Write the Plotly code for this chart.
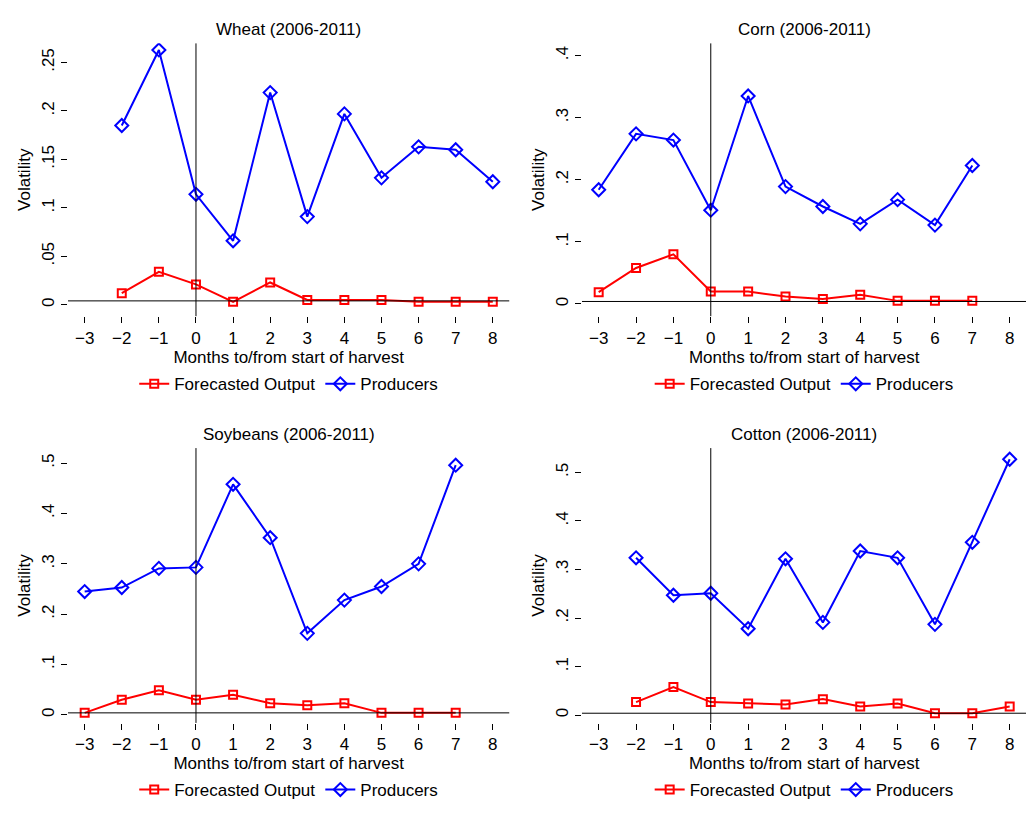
import plotly.graph_objects as go

# months relative to harvest start
wheat_x = [-2, -1, 0, 1, 2, 3, 4, 5, 6, 7, 8]
wheat_prod = [0.185, 0.263, 0.114, 0.066, 0.219, 0.091, 0.197, 0.131, 0.163, 0.160, 0.127]
wheat_fcst = [0.012, 0.034, 0.021, 0.003, 0.023, 0.005, 0.005, 0.005, 0.003, 0.003, 0.003]

corn_x = [-3, -2, -1, 0, 1, 2, 3, 4, 5, 6, 7]
corn_prod = [0.184, 0.274, 0.264, 0.151, 0.335, 0.189, 0.157, 0.129, 0.168, 0.127, 0.223]
corn_fcst = [0.019, 0.058, 0.080, 0.020, 0.020, 0.012, 0.008, 0.015, 0.005, 0.005, 0.005]

soy_x = [-3, -2, -1, 0, 1, 2, 3, 4, 5, 6, 7]
soy_prod = [0.245, 0.253, 0.291, 0.293, 0.458, 0.352, 0.162, 0.228, 0.255, 0.300, 0.496]
soy_fcst = [0.004, 0.030, 0.049, 0.030, 0.040, 0.023, 0.019, 0.023, 0.004, 0.004, 0.004]

cotton_x = [-2, -1, 0, 1, 2, 3, 4, 5, 6, 7, 8]
cotton_prod = [0.324, 0.247, 0.251, 0.178, 0.322, 0.191, 0.338, 0.324, 0.187, 0.356, 0.527]
cotton_fcst = [0.027, 0.058, 0.027, 0.024, 0.022, 0.033, 0.018, 0.024, 0.004, 0.004, 0.018]

titles = ["Wheat (2006-2011)", "Corn (2006-2011)", "Soybeans (2006-2011)", "Cotton (2006-2011)"]
x_ticks = list(range(-3, 9))

panels = [
    (wheat_x, wheat_prod, wheat_fcst, [-0.012, 0.27], [0, 0.05, 0.1, 0.15, 0.2, 0.25], ["0", ".05", ".1", ".15", ".2", ".25"]),
    (corn_x, corn_prod, corn_fcst, [-0.02, 0.42], [0, 0.1, 0.2, 0.3, 0.4], ["0", ".1", ".2", ".3", ".4"]),
    (soy_x, soy_prod, soy_fcst, [-0.016, 0.53], [0, 0.1, 0.2, 0.3, 0.4, 0.5], ["0", ".1", ".2", ".3", ".4", ".5"]),
    (cotton_x, cotton_prod, cotton_fcst, [-0.016, 0.55], [0, 0.1, 0.2, 0.3, 0.4, 0.5], ["0", ".1", ".2", ".3", ".4", ".5"]),
]

xdom = [[0.058, 0.485], [0.555, 0.985]]
ydom = [[0.623, 0.957], [0.126, 0.462]]
legend_y = [0.540, 0.044]

fig = go.Figure()
font = dict(family="Liberation Sans, Arial", size=17, color="black")
layout = {}

for i, (xs, prod, fcst, yr, yt, ytl) in enumerate(panels):
    n = i + 1
    col, row = i % 2, i // 2
    xa = "x" if n == 1 else f"x{n}"
    ya = "y" if n == 1 else f"y{n}"
    lg = "legend" if n == 1 else f"legend{n}"
    fig.add_trace(go.Scatter(x=xs, y=fcst, mode="lines+markers", name="Forecasted Output",
                             line=dict(color="red", width=2),
                             marker=dict(symbol="square-open", size=8, color="red", line=dict(width=2)),
                             xaxis=xa, yaxis=ya, legend=lg))
    fig.add_trace(go.Scatter(x=xs, y=prod, mode="lines+markers", name="Producers",
                             line=dict(color="blue", width=2),
                             marker=dict(symbol="diamond-open", size=10, color="blue", line=dict(width=2)),
                             xaxis=xa, yaxis=ya, legend=lg))
    layout[f"xaxis{n}" if n > 1 else "xaxis"] = dict(
        domain=xdom[col], anchor=ya, range=[-3.45, 8.45], tickvals=x_ticks,
        showgrid=False, zeroline=False, showline=False,
        ticks="outside", ticklen=6, tickcolor="black",
        title=dict(text="Months to/from start of harvest", standoff=0, font=font))
    layout[f"yaxis{n}" if n > 1 else "yaxis"] = dict(
        domain=ydom[row], anchor=xa, range=yr, tickvals=yt, ticktext=ytl, tickangle=-90,
        showgrid=False, zeroline=False, showline=False,
        ticks="outside", ticklen=6, tickcolor="black",
        title=dict(text="Volatility", standoff=4, font=font))
    layout[lg] = dict(orientation="h", x=sum(xdom[col]) / 2, xanchor="center",
                      y=legend_y[row], yanchor="middle", font=font, bgcolor="rgba(0,0,0,0)")
    fig.add_shape(type="line", xref=xa, yref=ya, x0=0, x1=0, y0=yr[0], y1=yr[1],
                  line=dict(color="black", width=1))
    fig.add_shape(type="line", xref=xa, yref=ya, x0=-3.45, x1=8.45, y0=0.004, y1=0.004,
                  line=dict(color="black", width=1))
    fig.add_annotation(text=titles[i], xref="paper", yref="paper",
                       x=sum(xdom[col]) / 2, xanchor="center", y=ydom[row][1] + 0.003, yanchor="bottom",
                       showarrow=False, font=font)

fig.update_layout(width=1034, height=818, margin=dict(l=0, r=0, t=0, b=0),
                  plot_bgcolor="white", paper_bgcolor="white", font=font, **layout)

fig.write_html("out.html")
